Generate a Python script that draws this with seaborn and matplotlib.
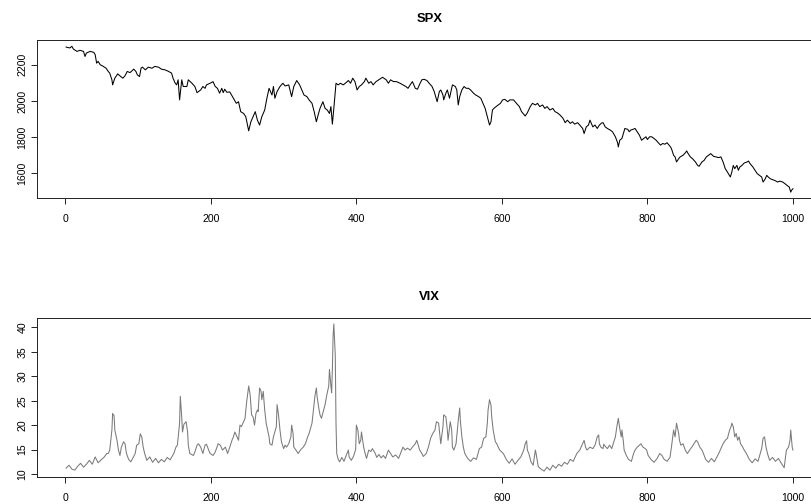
import matplotlib
matplotlib.use("Agg")
import matplotlib.pyplot as plt
import numpy as np
import pandas as pd
import seaborn as sns

# ---- data -----------------------------------------------------------------
spx_day = [1, 6, 9, 11, 16, 20, 25, 27, 29, 34, 39, 41, 43, 45, 48, 51, 56, 59, 61, 64,
           65, 68, 72, 75, 79, 82, 85, 89, 94, 97, 99, 102, 104, 106, 110, 114, 119, 123, 128, 132,
           137, 142, 146, 148, 151, 153, 155, 157, 159, 160, 162, 167, 169, 174, 178, 181, 183, 186, 189, 192,
           194, 199, 203, 206, 209, 212, 215, 217, 219, 222, 226, 231, 235, 238, 241, 245, 248, 252, 255, 258,
           261, 264, 267, 270, 272, 274, 277, 280, 284, 286, 288, 291, 295, 299, 302, 307, 311, 314, 318, 322,
           325, 328, 332, 335, 339, 342, 345, 348, 350, 354, 357, 360, 363, 365, 367, 369, 372, 375, 378, 382,
           386, 389, 392, 395, 398, 401, 404, 407, 411, 413, 417, 420, 423, 427, 432, 436, 441, 444, 447, 451,
           455, 460, 464, 468, 471, 474, 477, 481, 484, 487, 490, 493, 497, 500, 504, 507, 509, 511, 514, 516,
           519, 520, 523, 525, 528, 530, 532, 536, 538, 540, 542, 545, 548, 551, 554, 557, 561, 564, 568, 571,
           574, 577, 580, 583, 585, 587, 589, 592, 595, 598, 601, 604, 608, 611, 616, 620, 624, 627, 632, 635,
           639, 642, 646, 649, 652, 656, 659, 662, 666, 670, 673, 676, 680, 684, 687, 690, 694, 697, 700, 704,
           707, 711, 713, 716, 719, 721, 725, 728, 731, 734, 737, 739, 742, 745, 749, 752, 756, 759, 760, 762,
           765, 767, 769, 773, 775, 777, 780, 783, 786, 789, 792, 795, 798, 800, 803, 806, 809, 812, 815, 818,
           821, 824, 827, 831, 833, 836, 838, 840, 843, 845, 849, 852, 854, 856, 859, 862, 866, 869, 871, 875,
           878, 881, 884, 887, 891, 894, 898, 901, 904, 907, 910, 914, 916, 918, 920, 923, 925, 927, 930, 933,
           937, 939, 941, 945, 948, 951, 954, 957, 959, 962, 964, 966, 969, 972, 975, 979, 982, 986, 989, 992,
           995, 997, 998, 1000]
spx_close = [2298, 2293, 2302, 2287, 2274, 2280, 2274, 2246, 2265, 2274, 2269, 2256, 2209, 2219, 2200, 2194, 2181, 2163, 2154, 2117,
             2089, 2126, 2150, 2139, 2126, 2139, 2163, 2157, 2176, 2163, 2144, 2135, 2181, 2187, 2172, 2187, 2181, 2191, 2187, 2176,
             2172, 2163, 2154, 2126, 2098, 2089, 2117, 2006, 2080, 2117, 2080, 2080, 2117, 2098, 2080, 2046, 2052, 2061, 2080, 2070,
             2089, 2098, 2107, 2080, 2070, 2043, 2070, 2046, 2065, 2048, 2050, 2015, 1987, 1996, 1941, 1931, 1913, 1835, 1885, 1913,
             1941, 1894, 1867, 1913, 1931, 1950, 2015, 2070, 2033, 2080, 2015, 2052, 2080, 2098, 2083, 2089, 2024, 2080, 2113, 2089,
             2061, 2033, 2024, 2006, 1987, 1941, 1885, 1931, 1959, 1996, 1959, 1950, 1931, 1969, 1872, 1959, 2098, 2089, 2098, 2089,
             2102, 2113, 2098, 2126, 2107, 2061, 2080, 2089, 2107, 2126, 2098, 2107, 2089, 2107, 2120, 2131, 2117, 2098, 2117, 2107,
             2107, 2098, 2089, 2080, 2070, 2090, 2107, 2070, 2065, 2093, 2117, 2120, 2113, 2098, 2080, 2052, 2024, 1996, 2052, 2061,
             2033, 2006, 2043, 2061, 2015, 2052, 2089, 2080, 2061, 1978, 2024, 2061, 2080, 2070, 2070, 2061, 2043, 2033, 2024, 2015,
             1987, 1959, 1913, 1867, 1885, 1950, 1959, 1969, 1978, 1987, 2006, 2009, 1996, 2006, 2006, 1987, 1969, 1941, 1917, 1935,
             1969, 1987, 1978, 1987, 1969, 1978, 1959, 1969, 1950, 1959, 1941, 1935, 1922, 1904, 1880, 1894, 1876, 1885, 1872, 1880,
             1867, 1848, 1820, 1857, 1867, 1894, 1857, 1867, 1848, 1867, 1878, 1880, 1857, 1848, 1839, 1830, 1802, 1769, 1746, 1783,
             1793, 1820, 1848, 1843, 1830, 1839, 1843, 1848, 1830, 1811, 1783, 1793, 1802, 1787, 1802, 1802, 1793, 1783, 1769, 1756,
             1765, 1761, 1769, 1750, 1737, 1700, 1691, 1663, 1681, 1691, 1700, 1713, 1724, 1709, 1691, 1681, 1663, 1644, 1639, 1663,
             1672, 1691, 1700, 1709, 1694, 1691, 1687, 1691, 1663, 1626, 1607, 1580, 1607, 1644, 1626, 1644, 1617, 1635, 1644, 1657,
             1663, 1668, 1654, 1635, 1617, 1598, 1589, 1580, 1552, 1570, 1589, 1580, 1570, 1565, 1561, 1552, 1557, 1552, 1543, 1533,
             1524, 1496, 1506, 1515]

vix_day = [1, 5, 9, 13, 17, 21, 25, 29, 33, 37, 41, 45, 49, 53, 57, 59, 61, 64, 65, 67,
           68, 71, 73, 75, 77, 80, 82, 84, 87, 90, 94, 96, 98, 101, 103, 105, 107, 109, 112, 116,
           120, 124, 128, 132, 136, 140, 144, 149, 152, 154, 157, 158, 160, 161, 163, 166, 168, 169, 171, 176,
           178, 181, 183, 186, 189, 192, 194, 197, 199, 203, 206, 210, 213, 216, 220, 223, 226, 229, 231, 233,
           236, 238, 240, 242, 245, 247, 249, 252, 254, 256, 258, 260, 262, 264, 265, 267, 269, 270, 272, 274,
           276, 278, 280, 281, 284, 286, 290, 291, 293, 295, 297, 300, 302, 304, 307, 310, 311, 313, 314, 317,
           320, 323, 327, 330, 333, 335, 339, 341, 343, 345, 346, 348, 350, 352, 355, 357, 359, 360, 362, 363,
           365, 366, 367, 368, 369, 371, 372, 373, 375, 377, 380, 383, 386, 389, 390, 393, 396, 399, 400, 402,
           404, 406, 407, 410, 412, 414, 417, 420, 422, 426, 428, 431, 434, 437, 440, 444, 447, 450, 454, 458,
           464, 467, 470, 474, 477, 481, 483, 485, 487, 490, 492, 496, 499, 502, 505, 508, 510, 513, 514, 516,
           519, 520, 523, 525, 526, 529, 531, 532, 534, 537, 540, 542, 543, 545, 547, 549, 553, 557, 561, 565,
           569, 572, 575, 578, 580, 581, 583, 585, 586, 588, 591, 593, 595, 597, 602, 606, 610, 614, 618, 622,
           626, 630, 632, 634, 635, 637, 640, 643, 646, 647, 650, 654, 658, 662, 666, 670, 674, 678, 682, 686,
           690, 694, 698, 703, 707, 711, 713, 715, 717, 721, 725, 728, 731, 733, 734, 736, 739, 740, 743, 745,
           748, 751, 753, 756, 758, 760, 762, 764, 765, 767, 768, 771, 774, 778, 781, 783, 786, 789, 791, 794,
           797, 799, 801, 805, 809, 813, 817, 820, 823, 827, 831, 833, 836, 838, 840, 843, 844, 846, 849, 852,
           855, 858, 861, 864, 867, 869, 871, 872, 875, 877, 880, 884, 888, 892, 898, 901, 904, 907, 910, 913,
           915, 916, 918, 920, 922, 924, 926, 928, 931, 933, 936, 940, 944, 948, 952, 955, 957, 959, 961, 963,
           965, 968, 972, 976, 980, 984, 988, 991, 994, 996, 997, 999, 1000]
vix_close = [11.2, 11.8, 11.0, 10.8, 11.6, 12.2, 11.4, 12.0, 12.8, 12.0, 13.5, 12.3, 12.9, 13.4, 14.2, 14.2, 14.9, 19.0, 22.4, 21.9,
             19.0, 16.9, 14.9, 13.8, 15.5, 16.6, 16.2, 14.2, 13.0, 12.5, 13.6, 14.2, 15.9, 16.2, 18.2, 17.6, 15.5, 14.2, 12.8, 13.5,
             12.4, 13.2, 12.3, 13.0, 12.5, 13.4, 12.9, 14.2, 15.5, 15.9, 20.4, 25.9, 21.5, 18.6, 20.2, 20.7, 18.6, 15.9, 14.2, 13.8,
             14.5, 15.9, 16.2, 15.5, 14.2, 15.9, 16.1, 14.9, 14.2, 13.8, 14.5, 16.2, 15.9, 14.9, 15.5, 14.2, 15.5, 16.9, 17.6, 18.6,
             17.6, 16.9, 20.0, 19.7, 20.7, 21.4, 24.5, 28.0, 26.2, 22.1, 21.7, 20.0, 22.4, 23.1, 22.8, 27.6, 26.9, 25.2, 26.9, 23.1,
             20.4, 19.0, 17.6, 16.2, 15.9, 17.6, 19.7, 24.2, 22.1, 19.0, 16.6, 15.2, 15.9, 15.5, 16.2, 17.6, 20.0, 18.3, 15.5, 14.9,
             14.2, 14.9, 15.5, 16.2, 17.6, 18.3, 20.4, 23.1, 25.9, 27.6, 25.9, 23.8, 22.1, 21.4, 23.1, 24.2, 25.9, 26.6, 28.0, 31.4,
             28.0, 26.6, 31.4, 38.3, 40.7, 34.2, 20.4, 14.2, 13.0, 12.5, 13.4, 12.6, 13.8, 14.9, 13.5, 12.8, 13.6, 15.0, 20.0, 19.0,
             16.2, 16.9, 18.6, 15.5, 14.2, 13.2, 14.9, 14.6, 15.2, 14.2, 13.4, 14.0, 13.3, 13.8, 13.2, 14.9, 14.2, 13.5, 13.9, 13.2,
             15.5, 14.9, 15.3, 14.9, 15.5, 16.2, 16.9, 15.9, 14.9, 14.2, 13.6, 14.2, 15.5, 17.3, 18.3, 19.0, 20.7, 20.4, 19.0, 16.2,
             19.7, 22.1, 21.7, 19.0, 16.9, 20.7, 19.0, 15.5, 14.9, 16.2, 20.9, 23.5, 20.7, 17.6, 15.5, 14.2, 13.2, 12.6, 13.3, 13.0,
             15.2, 15.5, 17.3, 17.6, 20.4, 23.1, 25.2, 24.1, 21.7, 19.0, 16.6, 16.2, 15.5, 14.9, 14.2, 13.0, 12.2, 13.1, 12.0, 12.8,
             13.5, 14.9, 16.2, 16.8, 14.9, 14.2, 12.5, 11.8, 14.9, 14.2, 11.5, 11.0, 10.6, 11.4, 10.8, 11.8, 11.2, 12.0, 11.6, 12.4,
             12.0, 13.0, 12.6, 14.2, 14.9, 16.2, 16.9, 15.5, 14.9, 15.5, 15.2, 15.9, 17.6, 18.0, 16.2, 15.5, 15.2, 16.1, 15.5, 15.2,
             15.9, 15.2, 16.2, 17.6, 19.7, 21.4, 19.3, 17.6, 19.0, 16.6, 14.9, 13.8, 13.0, 12.6, 14.2, 14.9, 15.5, 15.9, 16.2, 15.5,
             15.2, 14.9, 13.8, 13.0, 12.4, 13.1, 14.2, 13.8, 13.0, 12.6, 13.4, 15.5, 19.0, 17.6, 20.4, 18.3, 16.9, 15.9, 16.2, 14.9,
             14.2, 14.9, 15.5, 16.2, 16.9, 16.6, 15.9, 15.5, 14.9, 14.2, 13.0, 12.4, 13.2, 12.5, 14.2, 15.2, 16.2, 16.9, 17.3, 19.0,
             19.7, 20.4, 19.7, 17.6, 18.3, 16.9, 17.6, 16.2, 15.5, 14.9, 14.2, 13.0, 12.3, 13.1, 12.6, 14.2, 15.2, 17.3, 17.6, 15.5,
             14.2, 12.8, 13.4, 12.6, 13.2, 12.2, 11.3, 14.9, 15.5, 16.9, 19.0, 15.5, 14.9]

x_ticks = [0, 200, 400, 600, 800, 1000]
spx_ticks = [1600, 1800, 2000, 2200]
vix_ticks = [10, 15, 20, 25, 30, 35, 40]

# ---- figure layout (pixel based) -----------------------------------------
W, H = 811, 504
DPI = 100
fig = plt.figure(figsize=(W / DPI, H / DPI), dpi=DPI)
fig.patch.set_facecolor("white")

plt.rcParams["font.family"] = ["Liberation Sans", "DejaVu Sans"]

def axes_px(x0, y0, x1, y1):
    return fig.add_axes([x0 / W, 1 - y1 / H, (x1 - x0) / W, (y1 - y0) / H])

ax_spx = axes_px(37, 40.5, 822, 198)
ax_vix = axes_px(37, 318, 822, 477)

def padded(values, frac=0.04):
    lo, hi = min(values), max(values)
    d = (hi - lo) * frac
    return lo - d, hi + d

spx_df = pd.DataFrame({"day": spx_day, "close": spx_close})
vix_df = pd.DataFrame({"day": vix_day, "close": vix_close})

panels = [
    (ax_spx, spx_df, "SPX", "black", spx_ticks),
    (ax_vix, vix_df, "VIX", "#7a7a7a", vix_ticks),
]

for ax, df, title, color, yt in panels:
    sns.lineplot(data=df, x="day", y="close", ax=ax, color=color,
                 linewidth=0.75, estimator=None, sort=False)
    ax.set_xlim(*padded([1, 1000]))
    ax.set_ylim(*padded(df["close"].tolist()))
    ax.set_xticks(x_ticks)
    ax.set_xticklabels([str(t) for t in x_ticks])
    ax.set_yticks(yt)
    ax.set_yticklabels([str(t) for t in yt], rotation=90, va="center")
    ax.set_xlabel("")
    ax.set_ylabel("")
    ax.tick_params(axis="both", direction="out", length=4.3, width=0.7,
                   color="#222222", labelsize=7.6, labelcolor="black")
    ax.tick_params(axis="x", pad=7.5)
    ax.tick_params(axis="y", pad=2.5)
    for sp in ax.spines.values():
        sp.set_color("#222222")
        sp.set_linewidth(0.7)
    ax.set_facecolor("white")
    ax.grid(False)
    ax.set_title(title, fontweight="bold", fontsize=9.4, pad=13.2)

fig.savefig("out.png", dpi=DPI, facecolor="white")
